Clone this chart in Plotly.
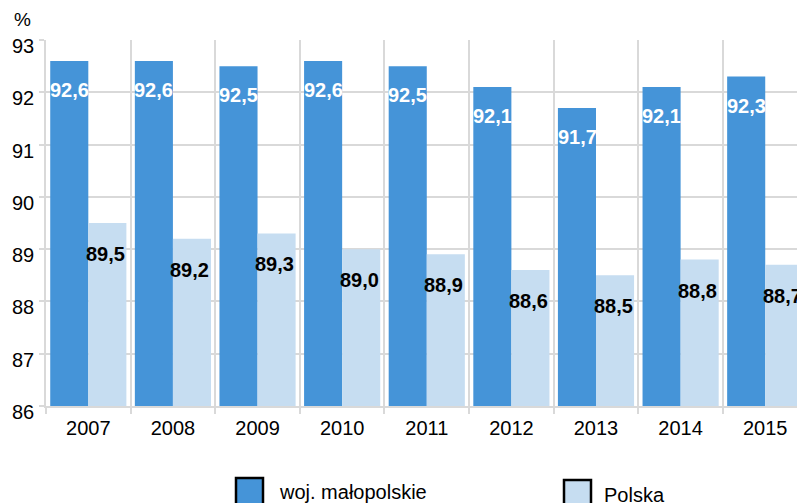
import plotly.graph_objects as go

years = ["2007", "2008", "2009", "2010", "2011", "2012", "2013", "2014", "2015"]
malopolskie = [92.6, 92.6, 92.5, 92.6, 92.5, 92.1, 91.7, 92.1, 92.3]
polska = [89.5, 89.2, 89.3, 89.0, 88.9, 88.6, 88.5, 88.8, 88.7]
series_names = ["woj. małopolskie", "Polska"]
y_ticks = [86, 87, 88, 89, 90, 91, 92, 93]

DARK = "#4594d8"
LIGHT = "#c6ddf1"
GRID = "#d9d9d9"
FONT = "Liberation Sans, Arial, sans-serif"

OFF = 8  # page body margin
W, H = 805 - OFF, 503 - OFF
ML, MR, MT = 46 - OFF, 0, 40 - OFF
PH = 366
MB = H - MT - PH
PW = W - ML - MR

def fmt(v):
    return f"{v:.1f}".replace(".", ",")

fig = go.Figure()
fig.add_trace(go.Bar(x=years, y=malopolskie, name=series_names[0],
                     marker=dict(color=DARK, line=dict(width=0)), showlegend=False))
fig.add_trace(go.Bar(x=years, y=polska, name=series_names[1],
                     marker=dict(color=LIGHT, line=dict(width=0)), showlegend=False))

annotations = []
for i, v in enumerate(malopolskie):
    annotations.append(dict(x=i, y=v, xref="x", yref="y", text=f"<b>{fmt(v)}</b>",
                            showarrow=False, xshift=-19, yshift=-29,
                            yanchor="middle", xanchor="center",
                            font=dict(color="white", size=20, family=FONT)))
for i, v in enumerate(polska):
    annotations.append(dict(x=i, y=v, xref="x", yref="y", text=f"<b>{fmt(v)}</b>",
                            showarrow=False, xshift=17, yshift=-31,
                            yanchor="middle", xanchor="center",
                            font=dict(color="black", size=20, family=FONT)))

def px_x(p):
    return (p - OFF - ML) / PW

def px_y(p):
    return (MT + PH - (p - OFF)) / PH

annotations.append(dict(x=px_x(22), y=px_y(20), xref="paper", yref="paper", text="%",
                        showarrow=False, xanchor="center", yanchor="middle",
                        font=dict(color="black", size=19, family=FONT)))

shapes = []
legend_items = [(series_names[0], DARK, 236, 478, 277, 492), (series_names[1], LIGHT, 564, 480, 602, 495)]
for name, col, bx, by, tx, ty in legend_items:
    shapes.append(dict(type="rect", xref="paper", yref="paper",
                       x0=px_x(bx), x1=px_x(bx + 27), y0=px_y(by), y1=px_y(by + 28),
                       fillcolor=col, line=dict(color="black", width=2.5)))
    annotations.append(dict(x=px_x(tx), y=px_y(ty), xref="paper", yref="paper", text=name,
                            showarrow=False, xanchor="left", yanchor="middle",
                            font=dict(color="black", size=20, family=FONT)))

fig.update_layout(
    width=W, height=H,
    margin=dict(l=ML, r=MR, t=MT, b=MB),
    paper_bgcolor="white", plot_bgcolor="white",
    barmode="group", bargap=0.1, bargroupgap=0,
    font=dict(family=FONT, color="black", size=20),
    annotations=annotations, shapes=shapes,
    showlegend=False,
    xaxis=dict(type="category", range=[-0.5, 8.47], tickson="boundaries",
               showgrid=True, gridcolor=GRID, gridwidth=1.5,
               ticks="outside", ticklen=6, tickcolor=GRID, tickwidth=1.5,
               showline=True, linecolor=GRID, linewidth=1.5,
               ticklabelstandoff=3,
               tickfont=dict(size=20, family=FONT, color="black"),
               fixedrange=True),
    yaxis=dict(range=[86, 93], tickvals=y_ticks, ticktext=[str(t) for t in y_ticks],
               showgrid=True, gridcolor=GRID, gridwidth=1.5,
               ticks="outside", ticklen=5, tickcolor=GRID, tickwidth=1.5,
               showline=True, linecolor=GRID, linewidth=1.5,
               zeroline=False, ticklabelstandoff=1, ticklabelshift=6,
               tickfont=dict(size=20, family=FONT, color="black"),
               fixedrange=True),
)

fig.write_html("out.html")
